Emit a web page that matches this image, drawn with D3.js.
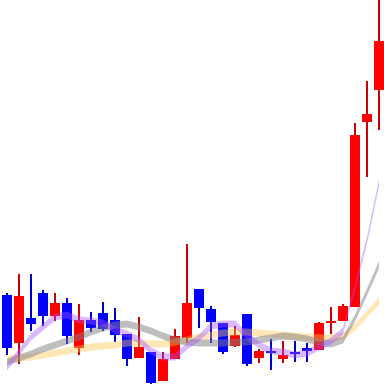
<!DOCTYPE html>
<html><head><meta charset="utf-8">
<script src="https://cdn.jsdelivr.net/npm/d3@7"></script>
<style>html,body{margin:0;padding:0;background:#fff;overflow:hidden}</style>
</head><body>
<svg id="chart" width="384" height="384"></svg>
<script>
// Daily candles (price units)
const opens  = [89,41,66,91,68,81,36,64,71,64,50,26,32,3,25,46,95,75,61,38,70,26,33,25,32,36,34,61,63,77,262,294];
const highs  = [91,110,110,94,91,86,80,72,82,76,50,67,32,32,55,140,95,78,61,58,70,35,45,43,43,41,62,77,80,261,303,400];
const lows   = [29,20,53,58,63,40,29,52,53,42,18,26,0,3,25,41,56,41,30,37,18,21,14,21,22,22,34,50,63,77,207,254];
const closes = [36,88,60,68,81,48,64,56,55,49,25,37,1,25,48,81,76,62,32,49,20,33,31,29,30,33,61,63,78,249,270,343];
// Moving averages
const ma5  = [17,32,47,57,67,69,64,63,61,54,50,44,33,27,27,38,46,58,60,60,48,39,33,32,29,31,37,43,53,97,144,201];
const ma25 = [22,26,30,35,39,43,47,52,56,59,60,57,53,48,44,42,41,41,41,42,42,44,46,48,47,45,42,40,44,66,92,119];
const ma75 = [25,26,27,29,31,33,35,37,38,39,41,41,40,40,42,44,47,49,51,52,52,51,50,49,48,47,46,46,48,57,70,83];

const W = 384, H = 384;
const svg = d3.select("#chart");
const idx = d3.range(closes.length);
const x = d3.scaleBand().domain(idx).range([1, 385]).padding(0);
const y = d3.scaleLinear().domain([0, 384]).range([H, 0]);
const cx = i => x(i) + x.bandwidth() / 2;

const up = i => closes[i] >= opens[i];

// wicks
svg.append("g").selectAll("rect").data(idx).join("rect")
  .attr("x", i => cx(i) - 1)
  .attr("width", 2)
  .attr("y", i => y(highs[i]))
  .attr("height", i => Math.max(0, y(lows[i]) - y(highs[i])))
  .attr("fill", i => up(i) ? "#cc0000" : "#0000cc");

// bodies
svg.append("g").selectAll("rect").data(idx).join("rect")
  .attr("x", i => x(i) + 1)
  .attr("width", x.bandwidth() - 2)
  .attr("y", i => y(Math.max(opens[i], closes[i])))
  .attr("height", i => Math.max(1, y(Math.min(opens[i], closes[i])) - y(Math.max(opens[i], closes[i]))))
  .attr("fill", i => up(i) ? "#ff0000" : "#0000ff");

// moving-average bands
const half = 3.5;
function band(vals, color, op) {
  const area = d3.area()
    .x((d, i) => cx(i))
    .y0(d => y(d) - half)
    .y1(d => y(d) + half)
    .curve(d3.curveLinear);
  svg.append("path").datum(vals)
    .attr("d", area)
    .attr("fill", color)
    .attr("fill-opacity", op);
}
band(ma75, "#ffc850", 0.42);
band(ma25, "#808080", 0.5);
band(ma5, "#a050ff", 0.4);
</script>
</body></html>
